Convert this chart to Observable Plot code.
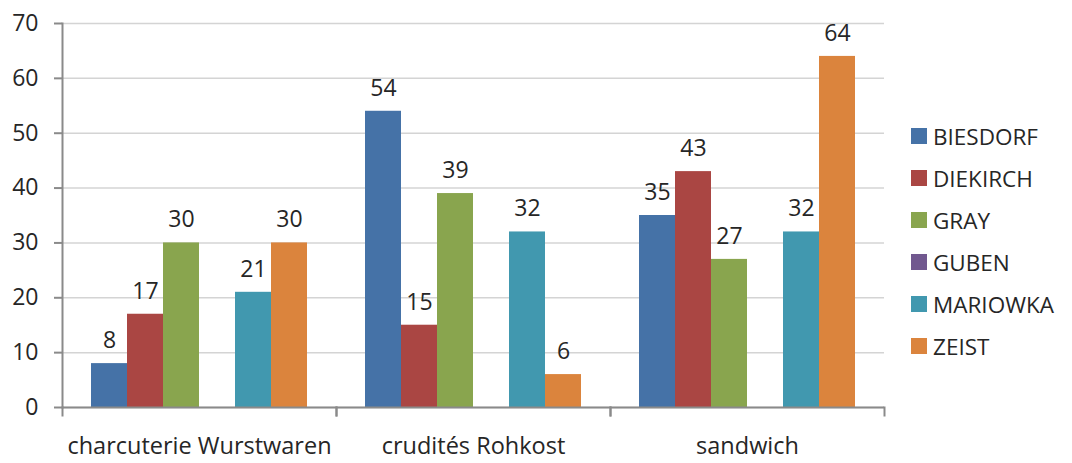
<!DOCTYPE html>
<html><head><meta charset="utf-8">
<script src="https://cdn.jsdelivr.net/npm/d3@7"></script>
<script src="https://cdn.jsdelivr.net/npm/@observablehq/plot@0.6"></script>
<style>
body{margin:0;background:#fff;}
#wrap{position:relative;width:1072px;height:463px;font-family:"Open Sans",sans-serif;}
#legend{position:absolute;left:911px;top:115px;}
.item{display:flex;align-items:center;height:42px;font-size:22.5px;color:#262626;}
.sw{width:16px;height:16px;margin-right:6px;}
</style></head><body><div id="wrap"><div id="legend"></div></div>
<script>
const categories = ["charcuterie Wurstwaren", "crudités Rohkost", "sandwich"];
const series = ["BIESDORF", "DIEKIRCH", "GRAY", "GUBEN", "MARIOWKA", "ZEIST"];
const colors = ["#4572A7", "#AA4643", "#89A54E", "#71588F", "#4198AF", "#DB843D"];
const biesdorf = [8, 54, 35];
const diekirch = [17, 15, 43];
const gray = [30, 39, 27];
const guben = [null, null, null];
const mariowka = [21, 32, 32];
const zeist = [30, 6, 64];
const yTicks = [0, 10, 20, 30, 40, 50, 60, 70];

const values = [biesdorf, diekirch, gray, guben, mariowka, zeist];
const data = [];
categories.forEach((c, i) => series.forEach((s, j) => {
  if (values[j][i] != null) data.push({category: c, series: s, value: values[j][i]});
}));

const axisColor = "#8a8a8a";
const plot = Plot.plot({
  width: 1072, height: 463,
  marginLeft: 62, marginRight: 188, marginTop: 23, marginBottom: 56,
  style: {fontFamily: "'Open Sans', sans-serif", fontSize: "22px", color: "#262626", background: "#fff"},
  fx: {domain: categories, padding: 0, label: null},
  x: {domain: series, paddingInner: 0, paddingOuter: 0.75, axis: null},
  y: {domain: [0, 70], label: null},
  color: {domain: series, range: colors},
  marks: [
    Plot.gridY(yTicks, {stroke: "#d4d4d4", strokeOpacity: 1, strokeWidth: 1.5}),
    Plot.barY(data, {fx: "category", x: "series", y: "value", fill: "series"}),
    Plot.text(data, {fx: "category", x: "series", y: "value", text: d => String(d.value), dy: -23, fontSize: 23, fill: "#262626"}),
    Plot.ruleY([0], {stroke: axisColor, strokeWidth: 2}),
    Plot.frame({anchor: "left", stroke: axisColor, strokeWidth: 2, insetTop: 384, insetBottom: -8}),
    Plot.frame({anchor: "right", stroke: axisColor, strokeWidth: 2, insetTop: 384, insetBottom: -8}),
    Plot.frame({anchor: "left", facet: "super", stroke: axisColor, strokeWidth: 2}),
    Plot.axisY(yTicks, {tickSize: 8, tickPadding: 16, stroke: axisColor, strokeWidth: 2, fontSize: 23, fill: "#262626"}),
    Plot.axisFx({anchor: "bottom", tickSize: 0, tickPadding: 30, fontSize: 23.5, fill: "#262626"})
  ]
});
document.getElementById("wrap").prepend(plot);

const legend = document.getElementById("legend");
series.forEach((s, i) => {
  const item = document.createElement("div");
  item.className = "item";
  const sw = document.createElement("div");
  sw.className = "sw";
  sw.style.background = colors[i];
  const t = document.createElement("span");
  t.textContent = s;
  item.append(sw, t);
  legend.append(item);
});
</script>
</body></html>
